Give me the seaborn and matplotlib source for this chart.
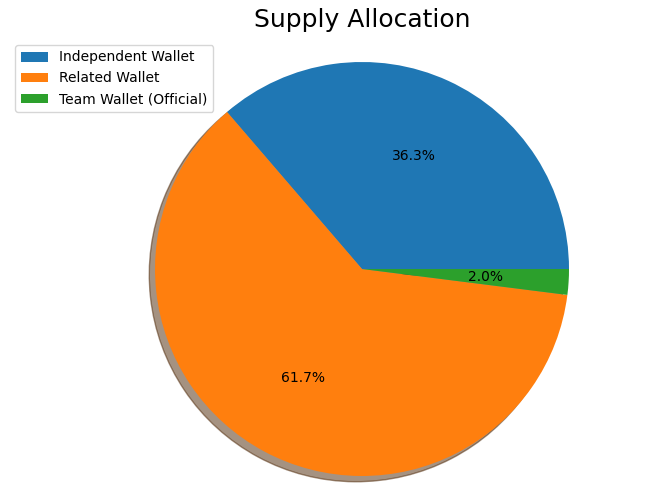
import matplotlib
matplotlib.use("Agg")
import matplotlib.pyplot as plt
import seaborn as sns

labels = ["Independent Wallet", "Related Wallet", "Team Wallet (Official)"]
shares = [36.3, 61.7, 2.0]

colors = sns.color_palette("tab10", 3)

fig = plt.figure(figsize=(6.55, 4.99), dpi=100)
W, H = 655, 499
cx, cy, r = 362, 269, 207
lim = 1.05
half = lim * r
ax = fig.add_axes([(cx - half) / W, (H - cy - half) / H, 2 * half / W, 2 * half / H])

ax.pie(
    shares,
    colors=colors,
    autopct="%1.1f%%",
    startangle=0,
    shadow=True,
    textprops={"fontsize": 10},
)
ax.set_xlim(-lim, lim)
ax.set_ylim(-lim, lim)
ax.set_aspect("equal")

fig.text(cx / W, 1 - 20 / H, "Supply Allocation", ha="center", va="center", fontsize=18)
fig.legend(labels, loc="upper left", bbox_to_anchor=(8 / W, 1 - 38 / H), fontsize=10)

fig.savefig("out.png", dpi=100)
